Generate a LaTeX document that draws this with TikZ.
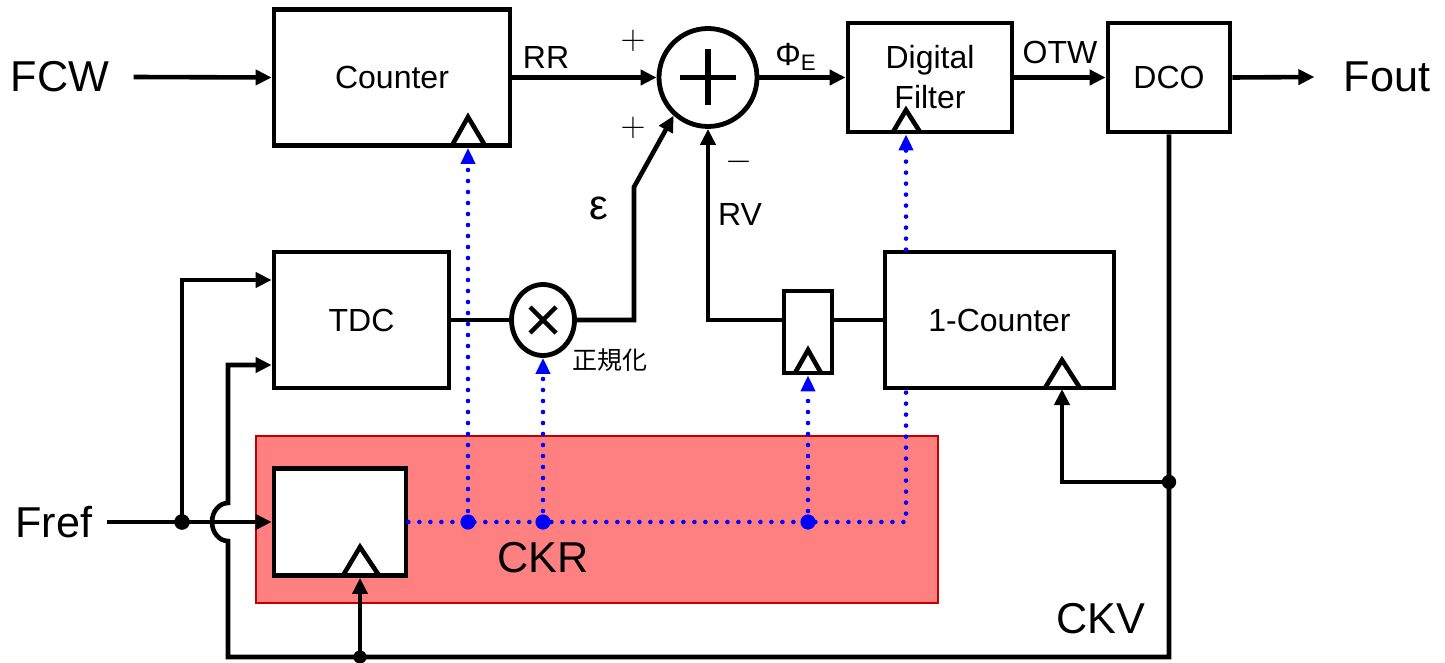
\documentclass[tikz,border=0pt]{standalone}
\usepackage{fontspec}
\setmainfont{Liberation Sans}
\newfontfamily\jpfont{Noto Sans CJK JP}
\usetikzlibrary{arrows.meta,calc,shapes.geometric}
\definecolor{redfill}{HTML}{FF8080}
\definecolor{redline}{HTML}{C00000}
\definecolor{dotblue}{HTML}{0000FF}
\begin{document}
\begin{tikzpicture}[x=0.5pt,y=-0.5pt,
  wire/.style={line width=2.3pt},
  arr/.style={wire,-{Triangle[length=8pt,width=7.5pt]}},
  blk/.style={draw,line width=2.4pt,fill=white,inner sep=0pt,font=\fontsize{16}{20}\selectfont},
  clk/.style={line width=2.3pt,line join=miter},
  bdot/.style={line width=2.3pt,draw=dotblue,dash pattern=on 0pt off 5.5pt,line cap=round},
  barr/.style={bdot,-{Triangle[length=8pt,width=7pt,fill=dotblue]}},
  big/.style={inner sep=0pt,font=\fontsize{21.6}{24}\selectfont},
  mid/.style={inner sep=0pt,font=\fontsize{16}{18}\selectfont},
  sgn/.style={inner sep=0pt,font=\fontsize{18}{18}\selectfont},
  jdot/.style={fill=black},
  bjdot/.style={fill=dotblue},
  ]
\useasboundingbox (0,0) rectangle (1445,663);

% CKR zone
\draw[fill=redfill,draw=redline,line width=1.4pt] (256,436) rectangle (938,603);

% blocks
\node[blk,minimum width=118pt,minimum height=68pt] (counter) at (392,77.5) {Counter};
\node[blk,minimum width=87.5pt,minimum height=68pt] (tdc) at (361.5,320) {TDC};
\node[blk,minimum width=82pt,minimum height=54.5pt,align=center] (df) at (930,77.5) {Digital\\Filter};
\node[blk,minimum width=61pt,minimum height=54.5pt] (dco) at (1169,77.5) {DCO};
\node[blk,minimum width=114.5pt,minimum height=68pt] (onec) at (999.5,320) {1-Counter};
\node[blk,minimum width=24pt,minimum height=41pt] (reg) at (808,332) {};
\node[blk,minimum width=66pt,minimum height=53.5pt] (ckrreg) at (340,522) {};
\node[draw,circle,line width=2.4pt,fill=white,minimum size=49pt,inner sep=0pt] (sum) at (708,77.5) {};
\node[draw,ellipse,line width=2.4pt,fill=white,minimum width=31.5pt,minimum height=35.5pt,inner sep=0pt] (mul) at (543,320) {};

% symbols inside sum and mul
\draw[line width=2.6pt] ($(sum)+(-28,0)$) -- ($(sum)+(28,0)$);
\draw[line width=2.6pt] ($(sum)+(0,-28)$) -- ($(sum)+(0,28)$);
\draw[line width=2.2pt] ($(mul)+(-13,-13)$) -- ($(mul)+(13,13)$);
\draw[line width=2.2pt] ($(mul)+(-13,13)$) -- ($(mul)+(13,-13)$);

% clock triangles
\draw[clk] (452,145.5) -- (468,117) -- (485,145.5);
\draw[clk] (893,132) -- (906,110) -- (920,132);
\draw[clk] (795,373) -- (808,350) -- (821,373);
\draw[clk] (1045,388) -- (1062,360) -- (1080,388);
\draw[clk] (343,575.5) -- (360,547) -- (379,575.5);

% labels
\node[big] (fcw) at (60,77) {FCW};
\node[big] (fout) at (1387,77) {Fout};
\node[big] (fref) at (54,522) {Fref};
\node[big] (ckr) at (543,558) {CKR};
\node[big] (ckv) at (1101,619) {CKV};
\node[mid] (rr) at (546,57) {RR};
\node[mid] (otw) at (1060,52) {OTW};
\node[mid] (rv) at (740,214) {RV};
\node[mid] (phie) at (796,57) {Φ\textsubscript{E}};
\node[inner sep=0pt,font=\fontsize{21}{24}\selectfont] (eps) at (599,208) {ε};
\node[inner sep=0pt,font=\jpfont\fontsize{12.5}{14}\selectfont] (norm) at (610,360) {正規化};
\node[sgn] (p1) at (633,41) {$+$};
\node[sgn] (p2) at (633,128) {$+$};
\node[sgn] (m1) at (739,162) {$-$};

% coordinates
\coordinate (ek1) at (634,320);
\coordinate (ek2) at (634,187);
\coordinate (vbr) at (1169,657);
\coordinate (vbl) at (228,657);
\coordinate (jb) at (228,541);
\coordinate (t2) at (228,365);
\coordinate (j1) at (182,522);
\coordinate (t1) at (182,280);
\coordinate (bd) at (360,657);
\coordinate (vd) at (1169,482);
\coordinate (oclk) at (1062,389);
\coordinate (b1) at (468,522);
\coordinate (b2) at (543,522);
\coordinate (b3) at (808,522);
\coordinate (b4) at (906,522);

% main signal path
\draw[arr] ([xshift=12pt]fcw.east) -- (counter.west);
\draw[arr] (counter.east) -- (sum.west);
\draw[arr] (sum.east) -- (df.west);
\draw[arr] (df.east) -- (dco.west);
\draw[arr] (dco.east) -- ([xshift=-14.5pt]fout.west);
\draw[wire] (tdc.east) -- (mul.west);
\draw[arr] (mul.east) -- (ek1) -- (ek2) -- (sum.228);
\draw[arr] (reg.west |- onec.west) -| (sum.south);
\draw[wire] (reg.east |- onec.west) -- (onec.west);

% CKV feedback
\draw[arr] (dco.south) -- (vbr) -- (vbl) -- (jb)
  arc[start angle=90,end angle=270,x radius=16,y radius=19] -- (t2) -- (t2 -| tdc.west);
\draw[arr] (vd) -| (oclk);
\draw[arr] (bd) -- (bd |- ckrreg.south);
\fill[jdot] (vd) circle (3.6pt);
\fill[jdot] (bd) circle (3.3pt);

% Fref
\draw[arr] ([xshift=7pt]fref.east) -- (ckrreg.west);
\draw[arr] (j1) -- (t1) -- (t1 -| tdc.west);
\fill[jdot] (j1) circle (3.9pt);

% CKR distribution
\draw[bdot] (ckrreg.east) -- (b4) -- (b4 |- onec.south);
\draw[barr] (b1) -- (b1 |- counter.south);
\draw[barr] (b2) -- (mul.south);
\draw[barr] (b3) -- (b3 |- reg.south);
\draw[barr] (b4 |- onec.north) -- (b4 |- df.south);
\fill[bjdot] (b1) circle (3.8pt);
\fill[bjdot] (b2) circle (3.8pt);
\fill[bjdot] (b3) circle (3.8pt);
\end{tikzpicture}
\end{document}
